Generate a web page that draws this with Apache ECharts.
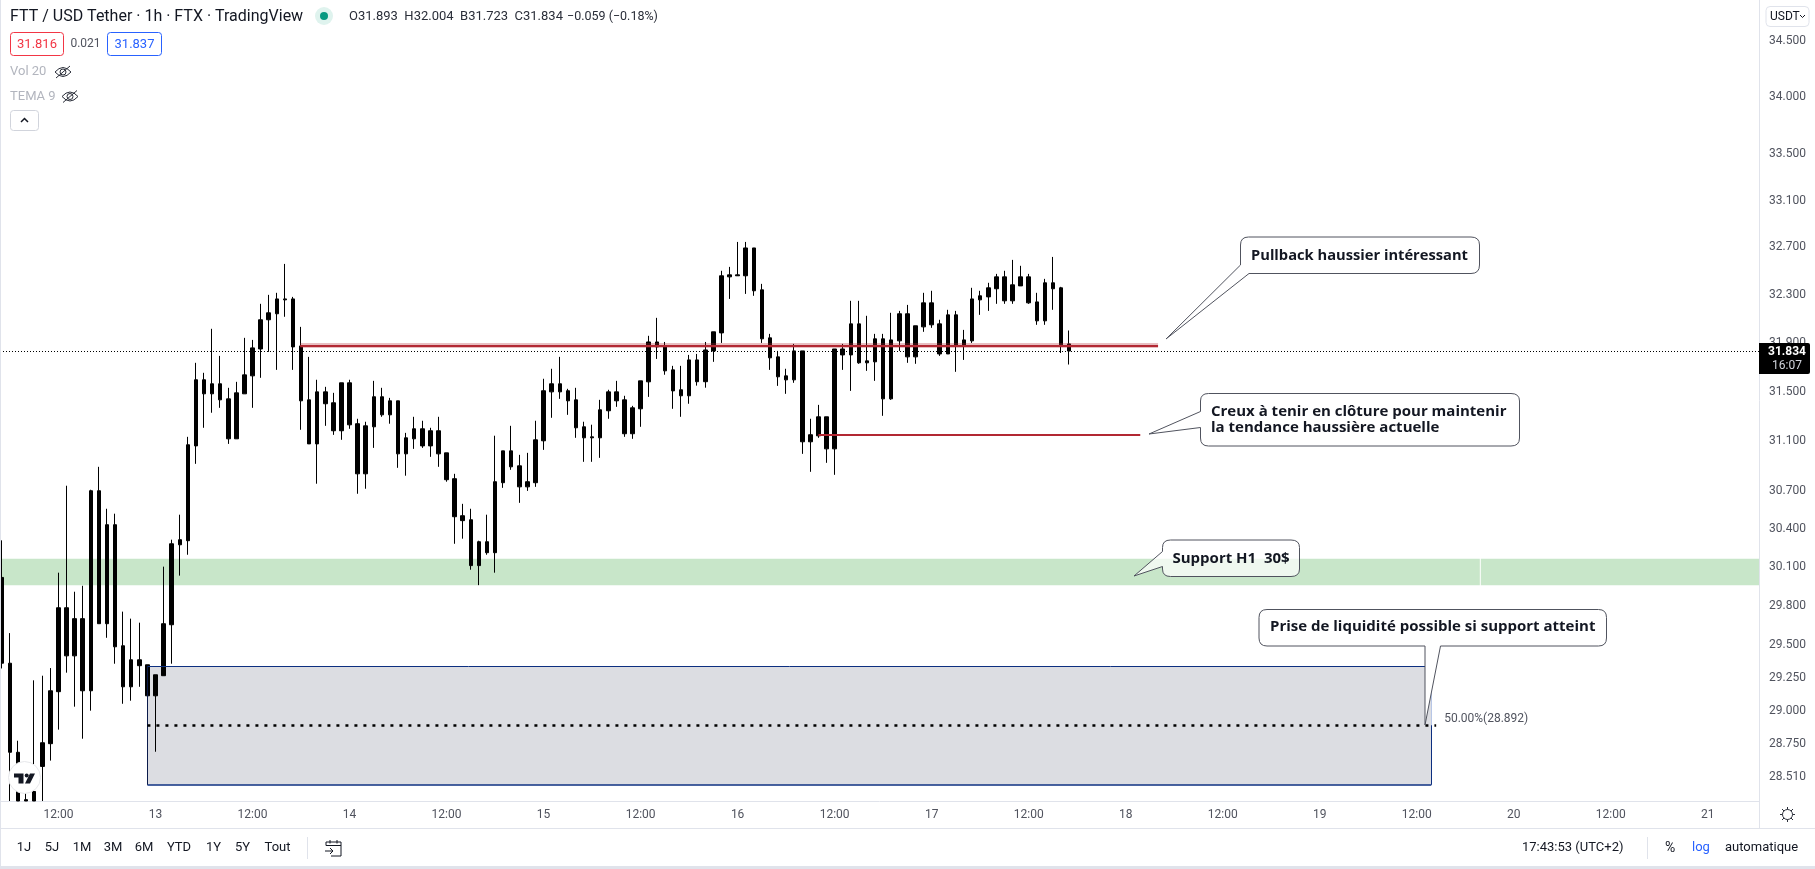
<!DOCTYPE html>
<html>
<head>
<meta charset="utf-8">
<style>
  html, body { margin: 0; padding: 0; background: #fff; }
  #chart { width: 1815px; height: 869px; }
</style>
<script src="https://cdn.jsdelivr.net/npm/echarts@6/dist/echarts.min.js"></script>
</head>
<body>
<div id="chart"></div>
<script>
// x axis counts hours from the 13th at 00:00
const firstCandleHour = -19;

const opens = [
  30.02, 29.36, 28.69, 28.34, 28.33, 28.585, 28.754, 29.144, 29.785, 29.416,
  29.701, 29.151, 30.702, 29.662, 30.433, 29.493, 29.181, 29.386, 29.348, 29.113,
  29.265, 29.654, 30.275, 30.307, 31.061, 31.598, 31.483, 31.565, 31.442, 31.118,
  31.483, 31.63, 31.851, 32.093, 32.143, 32.267, 32.267, 31.876, 31.434, 31.077,
  31.499, 31.41, 31.183, 31.573, 31.24, 30.837, 31.215, 31.459, 31.312, 31.426,
  30.997, 31.118, 31.199, 31.061, 31.183, 31.005, 30.798, 30.504, 30.472, 30.112,
  30.299, 30.213, 30.766, 31.021, 30.901, 30.733, 30.766, 31.102, 31.499, 31.565,
  31.508, 31.434, 31.215, 31.134, 31.126, 31.345, 31.499, 31.434, 31.159, 31.361,
  31.581, 31.909, 31.876, 31.679, 31.516, 31.467, 31.761, 31.582, 31.835, 31.984,
  32.452, 32.469, 32.461, 32.696, 32.343, 31.943, 31.786, 31.63, 31.597, 31.835,
  31.094, 31.142, 31.296, 31.037, 31.851, 31.802, 32.059, 31.737, 31.745, 31.935,
  31.442, 31.918, 32.143, 31.786, 32.034, 32.234, 32.059, 31.81, 32.134, 31.876,
  31.918, 32.259, 32.284, 32.352, 32.452, 32.251, 32.376, 32.452, 32.242, 32.084,
  32.402, 32.36, 31.893
];
const highs = [
  30.31, 29.59, 28.776, 28.52, 29.23, 29.265, 29.323, 30.057, 30.742, 29.909,
  29.955, 30.71, 30.893, 30.559, 30.52, 29.755, 29.701, 29.67, 29.348, 29.272,
  30.104, 30.315, 30.512, 31.134, 31.737, 31.655, 32.018, 31.794, 31.532, 31.581,
  31.943, 31.926, 32.226, 32.301, 32.318, 32.561, 32.284, 32.034, 31.786, 31.598,
  31.54, 31.491, 31.573, 31.598, 31.28, 31.256, 31.589, 31.532, 31.45, 31.426,
  31.166, 31.296, 31.264, 31.207, 31.296, 31.005, 30.837, 30.598, 30.559, 30.307,
  30.512, 31.143, 31.021, 31.223, 30.989, 31.005, 31.264, 31.606, 31.688, 31.786,
  31.524, 31.532, 31.256, 31.232, 31.434, 31.516, 31.589, 31.467, 31.385, 31.589,
  31.96, 32.109, 31.909, 31.712, 31.712, 31.802, 31.81, 31.909, 31.993, 32.503,
  32.536, 32.747, 32.747, 32.696, 32.393, 31.976, 31.835, 31.688, 31.893, 31.835,
  31.28, 31.393, 31.296, 31.851, 31.893, 32.251, 32.251, 32.126, 31.976, 31.976,
  32.151, 32.167, 32.217, 32.043, 32.318, 32.335, 32.093, 32.176, 32.167, 32.009,
  32.36, 32.335, 32.402, 32.477, 32.503, 32.595, 32.545, 32.477, 32.318, 32.435,
  32.62, 32.368, 32.004
];
// wicks and bodies that leave the pane are stopped at its lower edge, 28.33
const lows = [
  29.32, 28.33, 28.33, 28.33, 28.33, 28.33, 28.628, 28.859, 29.288, 29.031,
  28.791, 29.001, 29.662, 29.554, 29.356, 29.053, 29.076, 29.181, 29.113, 28.694,
  29.265, 29.356, 30.034, 30.197, 30.917, 31.207, 31.329, 31.369, 31.077, 31.118,
  31.483, 31.369, 31.614, 31.827, 31.679, 32.118, 31.679, 31.191, 31.077, 30.758,
  31.223, 31.15, 31.11, 31.199, 30.678, 30.718, 31.045, 31.296, 31.24, 30.885,
  30.822, 31.037, 31.045, 30.973, 30.893, 30.774, 30.283, 30.323, 30.08, 29.96,
  30.197, 30.057, 30.725, 30.869, 30.606, 30.701, 30.733, 31.029, 31.288, 31.442,
  31.312, 31.126, 30.933, 30.933, 30.965, 31.28, 31.377, 31.134, 31.118, 31.215,
  31.458, 31.769, 31.639, 31.361, 31.296, 31.402, 31.55, 31.533, 31.745, 31.901,
  32.267, 32.461, 32.309, 32.293, 31.901, 31.679, 31.548, 31.483, 31.573, 30.997,
  30.853, 31.126, 30.925, 30.829, 31.679, 31.507, 31.729, 31.671, 31.589, 31.304,
  31.434, 31.835, 31.737, 31.729, 31.993, 32.026, 31.794, 31.81, 31.663, 31.761,
  31.901, 32.134, 32.167, 32.226, 32.226, 32.226, 32.376, 32.226, 32.051, 32.051,
  32.176, 31.818, 31.723
];
const closes = [
  29.36, 28.69, 28.33, 28.33, 28.40, 28.761, 29.151, 29.785, 29.416, 29.701,
  29.151, 30.702, 29.662, 30.433, 29.485, 29.181, 29.386, 29.341, 29.113, 29.272,
  29.662, 30.283, 30.315, 31.07, 31.598, 31.483, 31.565, 31.434, 31.118, 31.491,
  31.638, 31.86, 32.093, 32.151, 32.267, 32.259, 31.868, 31.426, 31.077, 31.499,
  31.402, 31.183, 31.573, 31.231, 30.837, 31.223, 31.459, 31.312, 31.426, 30.997,
  31.126, 31.199, 31.061, 31.183, 30.997, 30.79, 30.496, 30.465, 30.112, 30.299,
  30.213, 30.774, 31.021, 30.893, 30.733, 30.774, 31.11, 31.508, 31.565, 31.499,
  31.426, 31.207, 31.126, 31.126, 31.353, 31.499, 31.426, 31.159, 31.369, 31.589,
  31.909, 31.868, 31.671, 31.507, 31.467, 31.761, 31.582, 31.843, 31.993, 32.461,
  32.469, 32.461, 32.696, 32.335, 31.935, 31.778, 31.622, 31.597, 31.835, 31.094,
  31.151, 31.296, 31.037, 31.851, 31.802, 32.059, 31.737, 31.753, 31.935, 31.442,
  31.926, 32.143, 31.786, 32.043, 32.234, 32.051, 31.81, 32.134, 31.876, 31.926,
  32.267, 32.293, 32.36, 32.452, 32.251, 32.385, 32.452, 32.234, 32.084, 32.402,
  32.352, 31.885, 31.834
];

const priceTicks = [34.5, 34, 33.5, 33.1, 32.7, 32.3, 31.9, 31.5, 31.1, 30.7, 30.4, 30.1, 29.8, 29.5, 29.25, 29, 28.75, 28.51];
const hourTicks = [-12, 0, 12, 24, 36, 48, 60, 72, 84, 96, 108, 120, 132, 144, 156, 168, 180, 192];

const lastPrice = 31.834;
const supportBand = [30.166, 29.96];
const supportGapHours = [163.8, 163.92];
const liquidityBox = [29.335, 28.449];
const liquidityMid = 28.892;
const liquidityHours = [-1, 157.8];
const pullbackLevel = 31.879;
const pullbackHours = [17.9, 124];
const creuxLevel = 31.15;
const creuxHours = [82, 121.8];

const pxPerHour = 8.085;
const axisMin = -155.5 / pxPerHour;
const axisMax = (1759 - 155.5) / pxPerHour;

const candles = opens.map((o, i) => [firstCandleHour + i, o, closes[i], lows[i], highs[i]]);

const uiFont = 'Roboto, sans-serif';
const noteFont = 'bold 15px "Open Sans", sans-serif';

const seg = (x1, y1, x2, y2, color, width, type) => [
  { coord: [x1, y1], lineStyle: { color: color, width: width, type: type || 'solid' } },
  { coord: [x2, y2] }
];

const txt = (x, y, text, fill, font, align) => ({
  type: 'text',
  style: { x: x, y: y, text: text, fill: fill, font: font || '12px ' + uiFont, align: align || 'left', verticalAlign: 'middle' }
});
const box = (x, y, w, h, stroke, fill, r) => ({
  type: 'rect',
  shape: { x: x, y: y, width: w, height: h, r: r || 0 },
  style: { stroke: stroke, fill: fill || 'none', lineWidth: 1 }
});
// the graphic component has no plain 'path' type, so each svg path gets its own shape
let pathCount = 0;
const pathEl = (d, stroke, fill, width) => {
  const name = 'tvPath' + pathCount++;
  echarts.graphic.registerShape(name, echarts.graphic.extendPath(d, {}));
  return { type: name, style: { stroke: stroke, fill: fill || 'none', lineWidth: width || 1 } };
};
const eye = (cx, cy) => pathEl(
  `M${cx - 8} ${cy} Q${cx} ${cy - 9} ${cx + 8} ${cy} Q${cx} ${cy + 9} ${cx - 8} ${cy} Z ` +
  `M${cx + 3} ${cy} A3 3 0 1 1 ${cx - 3} ${cy} A3 3 0 1 1 ${cx + 3} ${cy} Z ` +
  `M${cx - 7} ${cy + 6} L${cx + 7} ${cy - 6}`, '#2a2e39');

const calloutStroke = '#50535e';
const callouts = [
  pathEl('M1249 273.5 L1166 339 L1240.5 265 L1240.5 245 Q1240.5 237 1248.5 237 L1471 237 Q1479.5 237 1479.5 245 L1479.5 265 Q1479.5 273.5 1471 273.5 Z', calloutStroke, '#fff'),
  txt(1251, 256, 'Pullback haussier intéressant', '#131722', 'bold 14.7px "Open Sans", sans-serif'),
  pathEl('M1200.5 427.5 L1149 434 L1200.5 411.5 L1200.5 401 Q1200.5 393.5 1208.5 393.5 L1511 393.5 Q1519.5 393.5 1519.5 401 L1519.5 438 Q1519.5 446 1511 446 L1208.5 446 Q1200.5 446 1200.5 438 Z', calloutStroke, '#fff'),
  txt(1211, 411.5, 'Creux à tenir en clôture pour maintenir', '#131722', noteFont),
  txt(1211, 428, 'la tendance haussière actuelle', '#131722', noteFont),
  pathEl('M1162.5 566.5 L1134 576 L1162.5 551.5 L1162.5 547.5 Q1162.5 540 1170.5 540 L1291 540 Q1299.5 540 1299.5 547.5 L1299.5 569 Q1299.5 576.5 1291 576.5 L1170.5 576.5 Q1162.5 576.5 1162.5 569 Z', calloutStroke, 'rgba(255,255,255,0.7)'),
  txt(1172.5, 558.5, 'Support H1  30$', '#131722', noteFont),
  pathEl('M1440.5 646 L1425 725 L1425 646 L1267 646 Q1259 646 1259 638 L1259 617.5 Q1259 609.5 1267 609.5 L1598.5 609.5 Q1606.5 609.5 1606.5 617.5 L1606.5 638 Q1606.5 646 1598.5 646 Z', calloutStroke, '#fff'),
  txt(1270, 627, 'Prise de liquidité possible si support atteint', '#131722', noteFont)
];

const chrome = [
  // cadre de la page
  { type: 'rect', shape: { x: 0, y: 0, width: 1, height: 869 }, style: { fill: '#e0e3eb' } },
  { type: 'rect', shape: { x: 0, y: 866, width: 1815, height: 3 }, style: { fill: '#e0e3eb' } },
  { type: 'rect', shape: { x: 0, y: 828, width: 1815, height: 1 }, style: { fill: '#e0e3eb' } },
  { type: 'rect', shape: { x: 1759, y: 801, width: 1, height: 27 }, style: { fill: '#e0e3eb' } },

  // entete
  txt(10, 16.5, 'FTT / USD Tether · 1h · FTX · TradingView', '#131722', '16px ' + uiFont),
  { type: 'circle', shape: { cx: 324, cy: 16, r: 9 }, style: { fill: '#dff3ee' } },
  { type: 'circle', shape: { cx: 324, cy: 16, r: 4 }, style: { fill: '#089981' } },
  txt(349, 17, 'O31.893  H32.004  B31.723  C31.834', '#2a2e39', '13px ' + uiFont),
  txt(567, 17, '−0.059 (−0.18%)', '#2a2e39', '12.5px ' + uiFont),
  box(10.5, 32.5, 53, 23, '#f23645', '#fff', 3),
  txt(37, 44.5, '31.816', '#f23645', '13px ' + uiFont, 'center'),
  txt(85.5, 44, '0.021', '#50535e', '12px ' + uiFont, 'center'),
  box(107.5, 32.5, 54, 23, '#2962ff', '#fff', 3),
  txt(134.5, 44.5, '31.837', '#2962ff', '13px ' + uiFont, 'center'),
  txt(10, 72, 'Vol 20', '#b2b5be', '13px ' + uiFont),
  eye(63, 72),
  txt(10, 96.5, 'TEMA 9', '#b2b5be', '13px ' + uiFont),
  eye(70, 96.5),
  box(10.5, 110.5, 28, 20, '#d1d4dc', '#fff', 3),
  pathEl('M21 122 L24.5 118.5 L28 122', '#131722', 'none', 1.5),

  // axe des prix
  box(1766, 6.5, 43, 20, '#e0e3eb', '#fff', 4),
  txt(1770, 16.5, 'USDT', '#131722', '12px ' + uiFont),
  pathEl('M1800 15 L1802.5 17.5 L1805 15', '#131722'),
  { type: 'rect', shape: { x: 1759, y: 343, width: 51, height: 31, r: [0, 2, 2, 0] }, style: { fill: '#000' } },
  txt(1787, 352, '31.834', '#fff', 'bold 12px ' + uiFont, 'center'),
  txt(1787, 366, '16:07', '#d1d4dc', '12px ' + uiFont, 'center'),

  // logo
  { type: 'circle', shape: { cx: 24.5, cy: 777.5, r: 16 }, style: { fill: '#fff', stroke: '#e6e7ea', lineWidth: 1 } },
  pathEl('M14 773.5 L23.5 773.5 L23.5 783.5 L18.5 783.5 L18.5 777.5 L14 777.5 Z', 'none', '#131722'),
  { type: 'circle', shape: { cx: 26.7, cy: 775.5, r: 2 }, style: { fill: '#131722' } },
  pathEl('M30 773.5 L35 773.5 L30 783.5 L25 783.5 Z', 'none', '#131722'),

  // reglage
  { type: 'circle', shape: { cx: 1787.5, cy: 814.5, r: 5 }, style: { fill: '#fff', stroke: '#2a2e39', lineWidth: 1 } },
  pathEl('M1787.5 807 L1787.5 809.5 M1787.5 819.5 L1787.5 822 M1780 814.5 L1782.5 814.5 M1792.5 814.5 L1795 814.5 M1782 809 L1784 811 M1791 818 L1793 820 M1782 820 L1784 818 M1791 811 L1793 809', '#2a2e39'),

  // barre du bas
  txt(24, 848, '1J', '#131722', '13px ' + uiFont, 'center'),
  txt(52, 848, '5J', '#131722', '13px ' + uiFont, 'center'),
  txt(82, 848, '1M', '#131722', '13px ' + uiFont, 'center'),
  txt(113, 848, '3M', '#131722', '13px ' + uiFont, 'center'),
  txt(144, 848, '6M', '#131722', '13px ' + uiFont, 'center'),
  txt(179, 848, 'YTD', '#131722', '13px ' + uiFont, 'center'),
  txt(213.5, 848, '1Y', '#131722', '13px ' + uiFont, 'center'),
  txt(242.5, 848, '5Y', '#131722', '13px ' + uiFont, 'center'),
  txt(277.5, 848, 'Tout', '#131722', '13px ' + uiFont, 'center'),
  { type: 'rect', shape: { x: 307, y: 837, width: 1, height: 22 }, style: { fill: '#e0e3eb' } },
  pathEl('M326 845.5 L326 842 L341 842 L341 856 L331 856 M326 845.5 L341 845.5 M330 840 L330 843.5 M337 840 L337 843.5 M325 851 L333 851 M330 848 L333 851 L330 854', '#131722'),
  txt(1522, 848, '17:43:53 (UTC+2)', '#131722', '13px ' + uiFont),
  { type: 'rect', shape: { x: 1647, y: 837, width: 1, height: 22 }, style: { fill: '#e0e3eb' } },
  txt(1665, 848, '%', '#131722', '14px ' + uiFont),
  txt(1692, 848, 'log', '#2962ff', '13px ' + uiFont),
  txt(1725, 848, 'automatique', '#131722', '13px ' + uiFont)
];

const chart = echarts.init(document.getElementById('chart'), null, { renderer: 'canvas' });

const op = {
  animation: false,
  backgroundColor: '#fff',
  grid: { left: 0, top: 0, width: 1759, height: 801, containLabel: false },
  xAxis: {
    type: 'value',
    min: axisMin,
    max: axisMax,
    axisLine: { show: true, onZero: false, lineStyle: { color: '#e0e3eb', width: 1 } },
    axisTick: { show: false },
    splitLine: { show: false },
    axisLabel: {
      color: '#50535e',
      fontSize: 12,
      fontFamily: 'Roboto',
      margin: 8,
      customValues: hourTicks,
      formatter: (h) => ((h + 240) % 24 === 12 ? '12:00' : String(13 + h / 24))
    }
  },
  yAxis: {
    type: 'log',
    position: 'right',
    min: 28.33,
    max: 34.866,
    axisLine: { show: true, onZero: false, lineStyle: { color: '#e0e3eb', width: 1 } },
    axisTick: { show: false },
    splitLine: { show: false },
    axisLabel: {
      color: '#50535e',
      fontSize: 12,
      fontFamily: 'Roboto',
      margin: 10,
      padding: [2, 0, 0, 0],
      customValues: priceTicks,
      formatter: (v) => Number(v).toFixed(3)
    }
  },
  series: [
    {
      // zones sous les bougies
      name: 'zones',
      type: 'line',
      z: 1,
      data: [],
      markArea: {
        silent: true,
        itemStyle: { color: '#c8e6c9', borderWidth: 0 },
        data: [
          [{ coord: [axisMin, supportBand[0]] }, { coord: [supportGapHours[0], supportBand[1]] }],
          [{ coord: [supportGapHours[1], supportBand[0]] }, { coord: [axisMax, supportBand[1]] }],
          [
            { coord: [liquidityHours[0], liquidityBox[0]], itemStyle: { color: '#dcdde2' } },
            { coord: [liquidityHours[1], liquidityBox[1]] }
          ]
        ]
      },
      markLine: {
        silent: true,
        symbol: 'none',
        label: { show: false },
        data: [
          seg(liquidityHours[0], liquidityBox[0], liquidityHours[1], liquidityBox[0], '#0c2f80', 1),
          seg(liquidityHours[0], liquidityBox[1], liquidityHours[1], liquidityBox[1], '#0c2f80', 1.5),
          seg(liquidityHours[0], liquidityBox[0], liquidityHours[0], liquidityBox[1], '#0a1a4a', 1),
          seg(liquidityHours[1], liquidityBox[0], liquidityHours[1], liquidityMid, '#b7c6e6', 1),
          seg(liquidityHours[1], liquidityMid, liquidityHours[1], liquidityBox[1], '#0c2f80', 1)
        ]
      }
    },
    {
      name: 'FTT / USD Tether',
      type: 'candlestick',
      z: 3,
      barWidth: 4,
      itemStyle: { color: '#000', color0: '#000', borderColor: '#000', borderColor0: '#000', borderWidth: 1 },
      data: candles
    },
    {
      // niveaux traces par-dessus
      name: 'niveaux',
      type: 'line',
      z: 4,
      data: [],
      markLine: {
        silent: true,
        symbol: 'none',
        label: { show: false },
        data: [
          seg(axisMin, lastPrice, axisMax, lastPrice, '#000', 1, [1, 2]),
          seg(pullbackHours[0], pullbackLevel, pullbackHours[1], pullbackLevel, 'rgba(178,40,51,0.3)', 5),
          seg(pullbackHours[0], pullbackLevel, pullbackHours[1], pullbackLevel, '#b22833', 2),
          seg(creuxHours[0], creuxLevel, creuxHours[1], creuxLevel, '#b22833', 2),
          [
            {
              coord: [liquidityHours[0], liquidityMid],
              lineStyle: { color: '#000', width: 2.5, type: [3, 6] },
              label: {
                show: true,
                position: 'end',
                formatter: '50.00%(28.892)',
                color: '#50535e',
                fontSize: 12,
                fontFamily: 'Roboto',
                offset: [3, -6]
              }
            },
            { coord: [158.4, liquidityMid] }
          ]
        ]
      }
    }
  ],
  // zlevel 1 keeps the callouts, logo and price tag above the series
  graphic: { elements: chrome.concat(callouts).map((el) => ({ ...el, z: 10, zlevel: 1 })) }
};

chart.setOption(op, true);
</script>
</body>
</html>
